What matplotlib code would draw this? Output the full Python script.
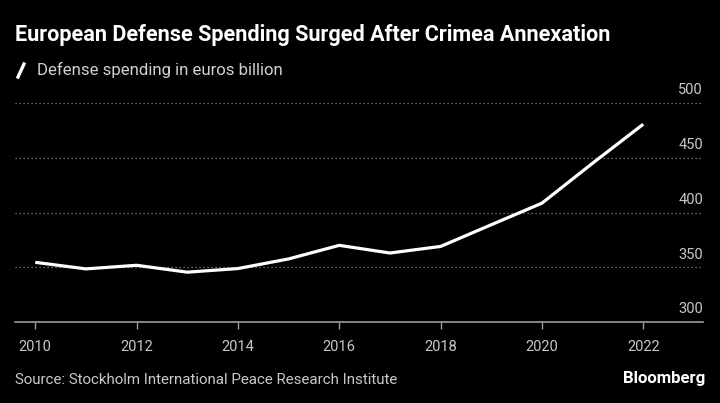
import matplotlib
matplotlib.use('Agg')
import matplotlib.pyplot as plt
from matplotlib.lines import Line2D
import matplotlib.transforms as mtransforms

years = [2010, 2011, 2012, 2013, 2014, 2015, 2016, 2017, 2018, 2019, 2020, 2021, 2022]
spending = [354.5, 348.5, 351.8, 345.5, 348.8, 357.6, 370.0, 363.0, 369.0, 388.8, 408.5, 445.0, 480.6]
y_ticks = [300, 350, 400, 450, 500]
x_ticks = [2010, 2012, 2014, 2016, 2018, 2020, 2022]

title = "European Defense Spending Surged After Crimea Annexation"
legend_label = "Defense spending in euros billion"
source = "Source: Stockholm International Peace Research Institute"

W, H = 720, 403
plt.rcParams['font.family'] = ['Roboto', 'DejaVu Sans']
fig = plt.figure(figsize=(W / 100, H / 100), dpi=100, facecolor='black')
ax = fig.add_axes([15 / W, (H - 322) / H, 688 / W, 219 / H])
ax.set_facecolor('black')

ax.plot(years, spending, color='white', lw=2.3, solid_capstyle='butt', zorder=3)
ax.set_xlim(2009.6, 2023.18)
ax.set_ylim(300, 500)

for t in y_ticks[1:]:
    ax.axhline(t, color='#8a8a8a', lw=0.9, ls=(0, (1, 2.2)), zorder=1)
for s in ['top', 'right', 'left']:
    ax.spines[s].set_visible(False)
ax.spines['bottom'].set_color('#9a9a9a')
ax.spines['bottom'].set_linewidth(1.2)
ax.set_yticks([])
ax.set_xticks(x_ticks)
ax.set_xticklabels([str(x) for x in x_ticks])
ax.tick_params(axis='x', length=5, width=1, color='#9a9a9a', labelcolor='#c8c8c8',
               labelsize=10.5, pad=8)

offset = mtransforms.offset_copy(ax.transData, fig=fig, x=0, y=5, units='points')
blend = mtransforms.blended_transform_factory(ax.transAxes, ax.transData)
blend_off = mtransforms.offset_copy(blend, fig=fig, x=0, y=4, units='points')
for t in y_ticks:
    ax.text(1.0, t, str(t), transform=blend_off, ha='right', va='bottom',
            color='#c8c8c8', fontsize=10.5)

renderer = fig.canvas.get_renderer()

def fit(txt, target_px):
    w = txt.get_window_extent(renderer=renderer).width
    txt.set_fontsize(txt.get_fontsize() * target_px / w)

t1 = fig.text(15 / W, 1 - 35 / H, title, color='white', fontweight='bold',
              fontsize=14, ha='left', va='center')
fit(t1, 597)
t2 = fig.text(37 / W, 1 - 70 / H, legend_label, color='#d0d0d0', fontsize=11,
              ha='left', va='center')
fit(t2, 245)
fig.add_artist(Line2D([18 / W, 24 / W], [1 - 77 / H, 1 - 64 / H], color='white', lw=2.4,
                      transform=fig.transFigure))
t3 = fig.text(15 / W, 1 - 380 / H, source, color='#c8c8c8', fontsize=10.5,
              ha='left', va='center')
fit(t3, 388)
t4 = fig.text(705 / W, 1 - 378 / H, "Bloomberg", color='white', fontweight='bold',
              fontsize=11, ha='right', va='center')
fit(t4, 83)

fig.savefig('out.png', dpi=100, facecolor='black')
